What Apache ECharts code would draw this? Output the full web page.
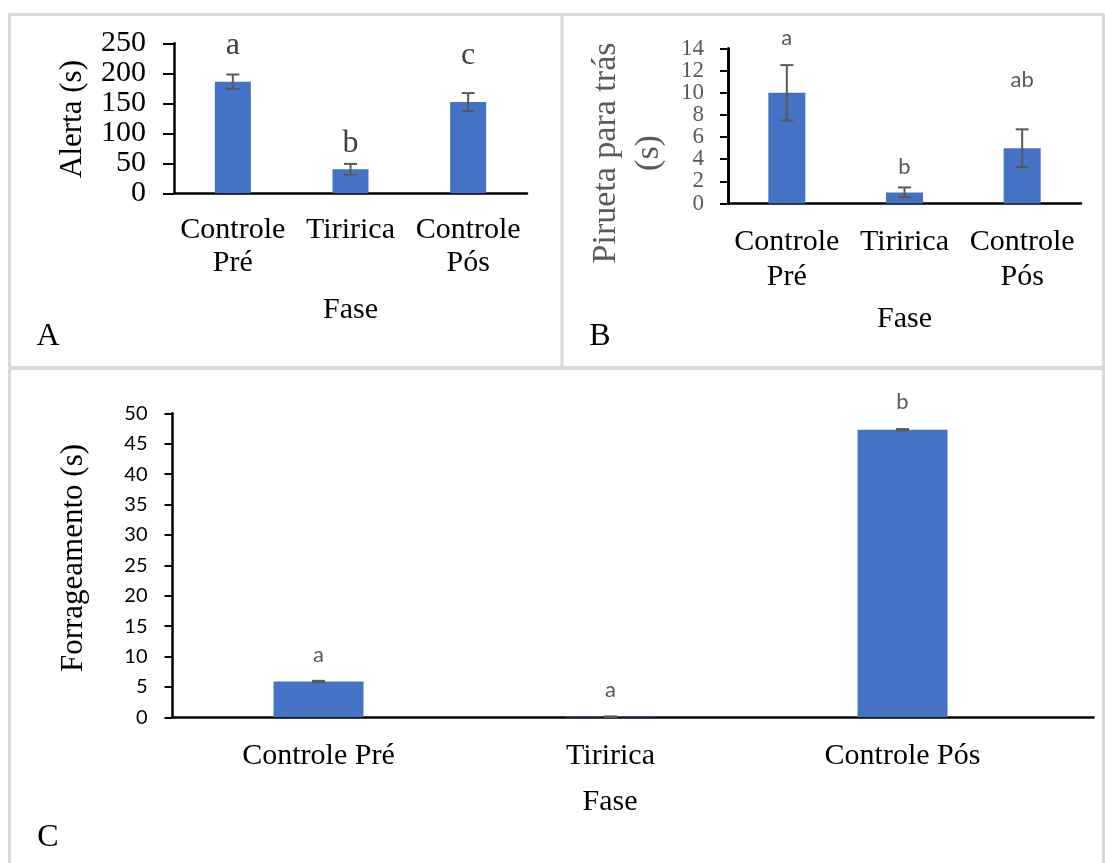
<!DOCTYPE html>
<html>
<head>
<meta charset="utf-8">
<script src="https://cdn.jsdelivr.net/npm/echarts@6/dist/echarts.min.js"></script>
<style>
html,body{margin:0;padding:0;background:#fff;}
#chart{width:1105px;height:863px;}
</style>
</head>
<body>
<div id="chart"></div>
<script>
// ---- data ----
const categoriesAB = ['Controle\nPré', 'Tiririca', 'Controle\nPós'];
const categoriesC = ['Controle Pré', 'Tiririca', 'Controle Pós'];

const alertaMean = [186, 40, 152];
const alertaErr = [12, 9, 15];
const alertaLetters = ['a', 'b', 'c'];
const alertaLetterY = [247, 83, 230];
const alertaTicks = [0, 250, 50];

const piruetaMean = [10, 1.0, 5.0];
const piruetaErr = [2.5, 0.45, 1.7];
const piruetaLetters = ['a', 'b', 'ab'];
const piruetaLetterY = [15.0, 3.3, 11.2];
const piruetaTicks = [0, 14, 2];

const forrageMean = [5.9, 0.1, 47.3];
const forrageErr = [0.1, 0.05, 0.1];
const forrageLetters = ['a', 'a', 'b'];
const forrageLetterY = [10.2, 4.5, 51.9];
const forrageTicks = [0, 50, 5];

// ---- styles ----
const SERIF = '"Liberation Serif", "Times New Roman", serif';
const SANS = 'Lato, "Open Sans", sans-serif';
const BLUE = '#4472C4';
const GRAY = '#595959';

function errRender(params, api) {
  const i = api.value(0), m = api.value(1), e = api.value(2);
  const t = api.coord([i, m + e]);
  const b = api.coord([i, m - e]);
  const h = 6.5;
  const st = {stroke: GRAY, lineWidth: 2};
  return {type: 'group', children: [
    {type: 'line', shape: {x1: t[0], y1: t[1], x2: b[0], y2: b[1]}, style: st},
    {type: 'line', shape: {x1: t[0] - h, y1: t[1], x2: t[0] + h, y2: t[1]}, style: st},
    {type: 'line', shape: {x1: b[0] - h, y1: b[1], x2: b[0] + h, y2: b[1]}, style: st}
  ]};
}
function letterRender(letters, font, color) {
  return function (params, api) {
    const p = api.coord([api.value(0), api.value(1)]);
    return {type: 'text', x: p[0], y: p[1], style: {
      text: letters[params.dataIndex], font: font, fill: color,
      align: 'center', verticalAlign: 'middle'}};
  };
}
function xAxisCfg(gi, cats, font, lh, margin, nameGap) {
  return {
    type: 'category', gridIndex: gi, data: cats,
    axisLine: {lineStyle: {color: '#000', width: 2.5}},
    axisTick: {show: false},
    axisLabel: {color: '#000', fontFamily: SERIF, fontSize: font, lineHeight: lh, margin: margin, interval: 0},
    name: 'Fase', nameLocation: 'middle', nameGap: nameGap,
    nameTextStyle: {color: '#000', fontFamily: SERIF, fontSize: font}
  };
}
// panel C: Excel's plot area is wider on the right than the category slots,
// so a value axis (slot i centred on value i) reproduces that geometry.
function xAxisValueCfg(gi, cats, font, lh, margin) {
  return {
    type: 'value', gridIndex: gi, min: -0.5, max: 2.654,
    axisLine: {show: true, onZero: false, lineStyle: {color: '#000', width: 2.5}},
    axisTick: {show: false},
    splitLine: {show: false},
    axisLabel: {color: '#000', fontFamily: SERIF, fontSize: font, lineHeight: lh, margin: margin,
      customValues: cats.map((c, i) => i),
      formatter: (v) => cats[Math.round(v)] || ''}
  };
}
function yAxisCfg(gi, min, max, interval, labelStyle, tickLen, margin, showEnds) {
  return {
    type: 'value', gridIndex: gi, position: 'left', offset: 0, min: min, max: max, interval: interval,
    axisLine: {show: true, onZero: false, lineStyle: {color: '#000', width: 2.5}},
    axisTick: {show: true, inside: false, length: tickLen, lineStyle: {color: '#000', width: 2}},
    splitLine: {show: false},
    axisLabel: Object.assign({margin: margin, showMinLabel: showEnds, showMaxLabel: showEnds, hideOverlap: false}, labelStyle)
  };
}
function seriesFor(gi, mean, err, letters, letterY, barW, letterFont, letterColor) {
  return [
    {type: 'bar', xAxisIndex: gi, yAxisIndex: gi, data: mean.map((v, i) => [i, v]), barWidth: barW,
     itemStyle: {color: BLUE}, silent: true},
    {type: 'custom', xAxisIndex: gi, yAxisIndex: gi, renderItem: errRender, z: 5, clip: false,
     data: mean.map((m, i) => [i, m, err[i]])},
    {type: 'custom', xAxisIndex: gi, yAxisIndex: gi, renderItem: letterRender(letters, letterFont, letterColor),
     z: 6, clip: false, data: letterY.map((v, i) => [i, v])}
  ];
}

const chart = echarts.init(document.getElementById('chart'), null, {renderer: 'canvas'});
const borderStyle = {stroke: '#d9d9d9', lineWidth: 3};
const bLabel = {color: GRAY, fontFamily: SERIF, fontSize: 23};
const option = {
  backgroundColor: '#fff',
  animation: false,
  grid: [
    {left: 174, top: 43.3, width: 353, height: 150},
    {left: 728, top: 48.5, width: 353, height: 155},
    {left: 172.5, top: 413.3, width: 921, height: 304}
  ],
  xAxis: [
    xAxisCfg(0, categoriesAB, 30, 33, 20, 102),
    xAxisCfg(1, categoriesAB, 30, 35, 21, 101),
    xAxisValueCfg(2, categoriesC, 30, 33, 22)
  ],
  yAxis: [
    yAxisCfg(0, alertaTicks[0], alertaTicks[1], alertaTicks[2], {color: '#000', fontFamily: SERIF, fontSize: 30}, 11, 28, true),
    // panel B: inner ticks on one axis, the two end ticks on an overlaid twin axis
    yAxisCfg(1, piruetaTicks[0], piruetaTicks[1], piruetaTicks[2], bLabel, 8, 24, false),
    yAxisCfg(2, forrageTicks[0], forrageTicks[1], forrageTicks[2], {color: '#000', fontFamily: SANS, fontSize: 20}, 8, 25, true),
    yAxisCfg(1, piruetaTicks[0], piruetaTicks[1], piruetaTicks[1] - piruetaTicks[0], bLabel, 8, 24, true)
  ],
  series: [].concat(
    seriesFor(0, alertaMean, alertaErr, alertaLetters, alertaLetterY, 36, '32px ' + SERIF, '#404040'),
    seriesFor(1, piruetaMean, piruetaErr, piruetaLetters, piruetaLetterY, 37, '22px ' + SANS, GRAY),
    seriesFor(2, forrageMean, forrageErr, forrageLetters, forrageLetterY, 90, '22px ' + SANS, GRAY)
  ),
  graphic: [
    {type: 'line', shape: {x1: 9, y1: 14.5, x2: 1104, y2: 14.5}, style: borderStyle, silent: true},
    {type: 'line', shape: {x1: 9.5, y1: 14, x2: 9.5, y2: 870}, style: borderStyle, silent: true},
    {type: 'line', shape: {x1: 1103.5, y1: 14, x2: 1103.5, y2: 870}, style: borderStyle, silent: true},
    {type: 'line', shape: {x1: 562, y1: 14, x2: 562, y2: 368}, style: borderStyle, silent: true},
    {type: 'line', shape: {x1: 9, y1: 368, x2: 1104, y2: 368}, style: {stroke: '#d9d9d9', lineWidth: 4}, silent: true},
    {type: 'text', x: 73, y: 119, rotation: Math.PI / 2,
     style: {text: 'Alerta (s)', font: '31px ' + SERIF, fill: '#000', align: 'center', verticalAlign: 'middle'}},
    {type: 'text', x: 628, y: 153, rotation: Math.PI / 2,
     style: {text: 'Pirueta para trás\n(s)', font: '34px ' + SERIF, lineHeight: 43, fill: GRAY, align: 'center', verticalAlign: 'middle'}},
    {type: 'text', x: 74, y: 558, rotation: Math.PI / 2,
     style: {text: 'Forrageamento (s)', font: '31px ' + SERIF, fill: '#000', align: 'center', verticalAlign: 'middle'}},
    {type: 'text', x: 610, y: 802, style: {text: 'Fase', font: '30px ' + SERIF, fill: '#000', align: 'center', verticalAlign: 'middle'}},
    {type: 'text', x: 48, y: 337, style: {text: 'A', font: '32px ' + SERIF, fill: '#000', align: 'center', verticalAlign: 'middle'}},
    {type: 'text', x: 600, y: 337, style: {text: 'B', font: '32px ' + SERIF, fill: '#000', align: 'center', verticalAlign: 'middle'}},
    {type: 'text', x: 48, y: 838, style: {text: 'C', font: '32px ' + SERIF, fill: '#000', align: 'center', verticalAlign: 'middle'}}
  ]
};
chart.setOption(option);
</script>
</body>
</html>
